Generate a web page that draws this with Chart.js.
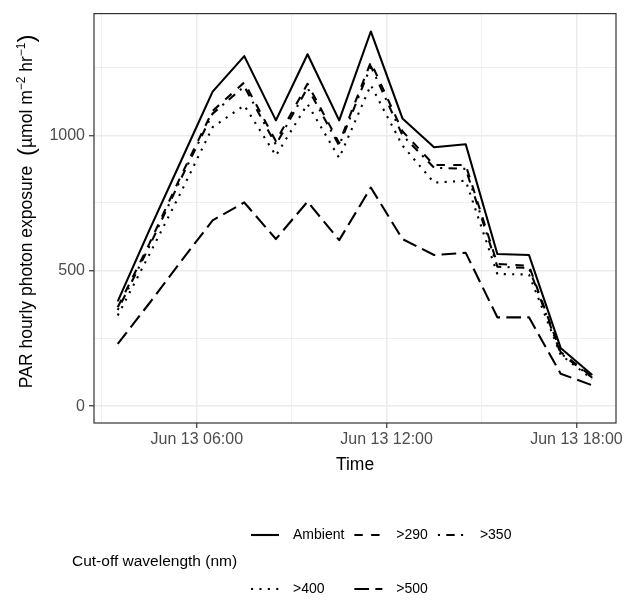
<!DOCTYPE html>
<html><head><meta charset="utf-8">
<script src="https://cdn.jsdelivr.net/npm/chart.js@4"></script>
<style>html,body{margin:0;padding:0;background:#fff}#wrap{width:627px;height:601px;position:relative}</style>
</head><body><div id="wrap"><canvas id="c" width="627" height="601"></canvas></div>
<script>
// ---- data ----
const times = ["03:30","04:30","05:30","06:30","07:30","08:30","09:30","10:30","11:30","12:30","13:30","14:30","15:30","16:30","17:30","18:30"];
const ambient = [387, 650, 905, 1161, 1292, 1055, 1299, 1055, 1383, 1062, 956, 967, 562, 558, 215, 115];
const cut290  = [365, 600, 850, 1090, 1195, 978, 1190, 971, 1270, 1015, 890, 890, 525, 518, 200, 108];
const cut350  = [355, 590, 840, 1080, 1180, 965, 1175, 962, 1255, 1000, 880, 876, 515, 510, 195, 105];
const cut400  = [335, 560, 790, 1030, 1110, 925, 1115, 916, 1185, 962, 825, 832, 488, 486, 190, 100];
const cut500  = [230, 380, 535, 686, 752, 617, 755, 613, 807, 617, 558, 566, 328, 328, 120, 77];
const seriesNames = ["Ambient", ">290", ">350", ">400", ">500"];
const seriesValues = [ambient, cut290, cut350, cut400, cut500];
const xTickTimes = ["03:00","06:00","09:00","12:00","15:00","18:00"];
const xTickLabels = {"06:00":"Jun 13 06:00","12:00":"Jun 13 12:00","18:00":"Jun 13 18:00"};
const yTickValues = [0, 250, 500, 750, 1000, 1250];
const yLabelled = [0, 500, 1000];
const legendTitle = "Cut-off wavelength (nm)";
const xTitle = "Time";

// ---- styles ----
const FONT = "'Liberation Sans', Arial, Helvetica, sans-serif";
const U = 2.1;
const dashes = [[], [4*U,4*U], [U,3*U,4*U,3*U], [U,3*U], [7*U,3*U]];
function toHours(t){const p=t.split(':').map(Number);return p[0]+p[1]/60;}

const datasets = seriesNames.map((n,i)=>({
  label:n,
  data: times.map((t,j)=>({x:toHours(t), y:seriesValues[i][j]})),
  borderColor:'#000', backgroundColor:'#000', borderWidth:2.1, borderDash:dashes[i],
  borderCapStyle:'butt', borderJoinStyle:'round', pointRadius:0, tension:0, fill:false
}));

const panelBorder = {
  id:'panelBorder',
  afterDatasetsDraw(chart){
    const {ctx, chartArea:a} = chart;
    ctx.save(); ctx.strokeStyle='#333'; ctx.lineWidth=1.2;
    ctx.strokeRect(a.left, a.top, a.right-a.left, a.bottom-a.top);
    ctx.restore();
  }
};

const yTitlePlugin = {
  id:'yTitle',
  afterDraw(chart){
    const {ctx, chartArea:a} = chart;
    const parts = [
      {t:"PAR hourly photon exposure  ", s:17.5, dy:0},
      {t:"(", s:24, dy:1.5},
      {t:"\u00B5mol m", s:17.5, dy:0},
      {t:"\u22122", s:12, dy:-7},
      {t:" hr", s:17.5, dy:0},
      {t:"\u22121", s:12, dy:-7},
      {t:")", s:24, dy:1.5}
    ];
    ctx.save();
    let w=0; parts.forEach(p=>{ctx.font=p.s+'px '+FONT; p.w=ctx.measureText(p.t).width; w+=p.w;});
    const cy=(a.top+a.bottom)/2 - 7;
    ctx.translate(32, cy); ctx.rotate(-Math.PI/2);
    ctx.fillStyle='#000'; ctx.textBaseline='alphabetic'; ctx.textAlign='left';
    let x=-w/2;
    parts.forEach(p=>{ctx.font=p.s+'px '+FONT; ctx.fillText(p.t, x, p.dy); x+=p.w;});
    ctx.restore();
  }
};

const customLegend = {
  id:'customLegend',
  afterDraw(chart){
    const ctx = chart.ctx;
    const rows = [[0,1,2],[3,4]];
    const rowY = [535, 589];
    const keyW = 28, gap = 14, colSpace = 10, labelSize = 14;
    ctx.save();
    ctx.fillStyle='#000'; ctx.textBaseline='middle';
    ctx.font = '15.5px '+FONT; ctx.textAlign='left';
    ctx.fillText(legendTitle, 72, (rowY[0]+rowY[1])/2);
    ctx.font = labelSize+'px '+FONT;
    const nCols = 3; const colW = [];
    for(let c=0;c<nCols;c++){
      let m=0; rows.forEach(r=>{ if(r[c]!==undefined){ m=Math.max(m, ctx.measureText(seriesNames[r[c]]).width);} });
      colW.push(m);
    }
    let x0 = 251; const colX=[];
    for(let c=0;c<nCols;c++){ colX.push(x0); x0 += keyW + gap + colW[c] + colSpace; }
    rows.forEach((r,ri)=>{
      r.forEach((si,c)=>{
        const ds = chart.data.datasets[si];
        const y = rowY[ri];
        ctx.save(); ctx.strokeStyle='#000'; ctx.lineWidth=2.1; ctx.lineCap='butt';
        ctx.setLineDash(ds.borderDash||[]);
        ctx.beginPath(); ctx.moveTo(colX[c], y); ctx.lineTo(colX[c]+keyW, y); ctx.stroke();
        ctx.restore();
        ctx.fillStyle='#000'; ctx.font = labelSize+'px '+FONT;
        ctx.fillText(seriesNames[si], colX[c]+keyW+gap, y);
      });
    });
    ctx.restore();
  }
};

new Chart(document.getElementById('c'), {
  type:'line',
  data:{datasets},
  options:{
    responsive:false, animation:false, devicePixelRatio:1,
    layout:{padding:{top:9, right:11, bottom:121, left:0}},
    plugins:{legend:{display:false}, tooltip:{enabled:false}},
    scales:{
      x:{
        type:'linear', min:2.75, max:19.25,
        afterBuildTicks(s){ s.ticks = xTickTimes.map(t=>({value:toHours(t)})); },
        afterFit(s){ s.height = 57; },
        ticks:{
          autoSkip:false, maxRotation:0, minRotation:0, padding:2, color:'#4D4D4D',
          font:{family:FONT, size:16},
          callback(v){ const k=xTickTimes.find(t=>Math.abs(toHours(t)-v)<1e-6); return xTickLabels[k]||''; }
        },
        grid:{
          color:'#EBEBEB',
          lineWidth(c){ const k=xTickTimes.find(t=>Math.abs(toHours(t)-c.tick.value)<1e-6); return xTickLabels[k]?1.5:0.8; },
          tickColor(c){ const k=xTickTimes.find(t=>Math.abs(toHours(t)-c.tick.value)<1e-6); return xTickLabels[k]?'#333':'rgba(0,0,0,0)'; },
          tickLength:5, tickWidth:1.2, drawTicks:true
        },
        border:{display:false},
        title:{display:true, text:xTitle, color:'#000', font:{family:FONT, size:17.5}, padding:{top:0,bottom:4}}
      },
      y:{
        type:'linear', min:-62, max:1449,
        afterBuildTicks(s){ s.ticks = yTickValues.map(v=>({value:v})); },
        afterFit(s){ s.width = 94; },
        ticks:{
          autoSkip:false, padding:4, color:'#4D4D4D', font:{family:FONT, size:16},
          callback(v){ return yLabelled.includes(v)? String(v) : ''; }
        },
        grid:{
          color:'#EBEBEB',
          lineWidth(c){ return yLabelled.includes(c.tick.value)?1.5:0.8; },
          tickColor(c){ return yLabelled.includes(c.tick.value)?'#333':'rgba(0,0,0,0)'; },
          tickLength:5, tickWidth:1.2
        },
        border:{display:false},
        title:{display:false}
      }
    }
  },
  plugins:[panelBorder, yTitlePlugin, customLegend]
});
</script>
</body></html>
